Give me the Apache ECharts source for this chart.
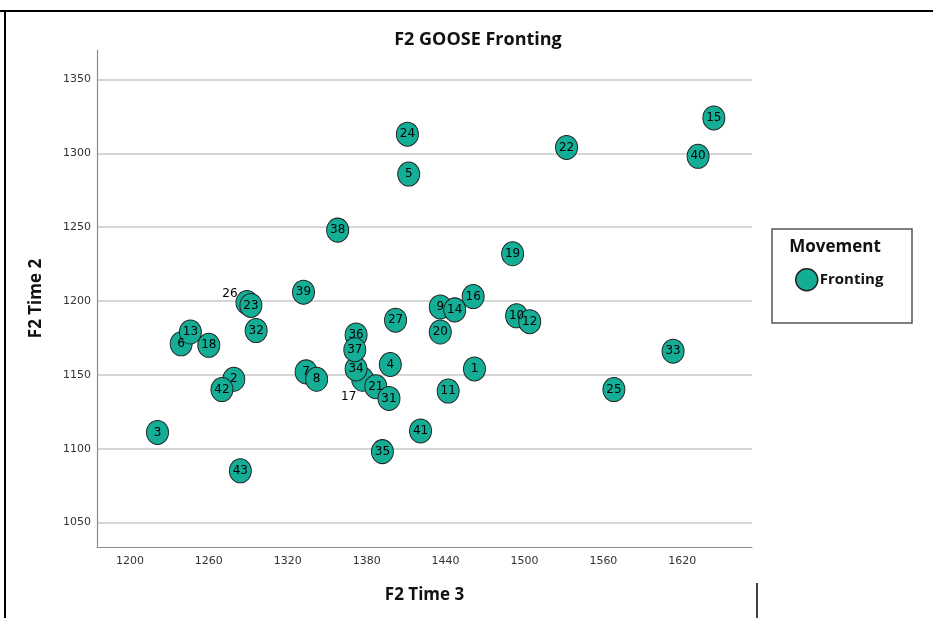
<!DOCTYPE html>
<html><head><meta charset="utf-8">
<script src="https://cdn.jsdelivr.net/npm/echarts@6/dist/echarts.min.js"></script>
<style>html,body{margin:0;padding:0;background:#fff}#c{width:933px;height:618px}</style>
</head><body><div id="c"></div>
<script>
// Case ids, in drawing order (26 is drawn beneath 23)
const ids     = [1, 2, 3, 4, 5, 6, 7, 8, 9, 10, 11, 12, 13, 14, 15, 16, 17, 18, 19, 20, 21, 22, 26, 23, 24, 25, 27, 31, 32, 33, 34, 35, 36, 37, 38, 39, 40, 41, 42, 43];
// F2 Time 3 (x)
const f2Time3 = [1462, 1279, 1221, 1398, 1412, 1239, 1334, 1342, 1436, 1494, 1442, 1504, 1246, 1447, 1644, 1461, 1377, 1260, 1491, 1436, 1387, 1532, 1289, 1292, 1411, 1568, 1402, 1397, 1296, 1613, 1372, 1392, 1372, 1371, 1358, 1332, 1632, 1421, 1270, 1284];
// F2 Time 2 (y)
const f2Time2 = [1154, 1147, 1111, 1157, 1286, 1171, 1152, 1147, 1196, 1190, 1139, 1186, 1179, 1194, 1324, 1203, 1147, 1170, 1232, 1179, 1142, 1304, 1199, 1197, 1313, 1140, 1187, 1134, 1180, 1166, 1154, 1098, 1177, 1167, 1248, 1206, 1298, 1112, 1140, 1085];
const xTicks = [1200, 1260, 1320, 1380, 1440, 1500, 1560, 1620];
const yTicks = [1050, 1100, 1150, 1200, 1250, 1300, 1350];
const seriesName = 'Fronting';
const legendTitle = 'Movement';

// labels that SPSS moved outside their marker
const movedLabel = { 17: [-14, 18], 26: [-17, -9] };

const data = ids.map((id, i) => {
  const item = { value: [f2Time3[i], f2Time2[i]], id: String(id) };
  if (movedLabel[id]) item.label = { offset: movedLabel[id] };
  return item;
});

const FONT = "'Open Sans', 'DejaVu Sans', sans-serif";
const chart = echarts.init(document.getElementById('c'), null, { renderer: 'canvas' });
chart.setOption({
  animation: false,
  backgroundColor: '#fff',
  title: {
    text: 'F2 GOOSE Fronting', left: 473, top: 26, textAlign: 'center',
    textStyle: { fontFamily: FONT, fontSize: 18, fontWeight: 'bold', color: '#111' }
  },
  grid: { left: 97, right: 181, top: 50, bottom: 71, containLabel: false },
  xAxis: {
    type: 'value', min: 1175, max: 1673,
    name: 'F2 Time 3', nameLocation: 'middle', nameGap: 40,
    nameTextStyle: { fontFamily: FONT, fontSize: 17, fontWeight: 'bold', color: '#111' },
    axisLine: { show: true, lineStyle: { color: '#8c8c8c', width: 1.2 } },
    axisTick: { show: false, customValues: xTicks },
    axisLabel: { customValues: xTicks, formatter: v => String(v), margin: 9, fontFamily: "'DejaVu Sans', sans-serif", fontSize: 11, color: '#333' },
    splitLine: { show: false }
  },
  yAxis: {
    type: 'value', min: 1033.4, max: 1370,
    name: 'F2 Time 2', nameLocation: 'middle', nameGap: 52, nameRotate: 90,
    nameTextStyle: { fontFamily: FONT, fontSize: 17, fontWeight: 'bold', color: '#111' },
    axisLine: { show: true, lineStyle: { color: '#8c8c8c', width: 1.2 } },
    axisTick: { show: false, customValues: yTicks },
    axisLabel: { customValues: yTicks, formatter: v => String(v), margin: 6, fontFamily: "'DejaVu Sans', sans-serif", fontSize: 11, color: '#333' },
    splitLine: { show: true, lineStyle: { color: '#c8c8c8', width: 1.5 } }
  },
  legend: {
    data: [seriesName], left: 795, top: 268, orient: 'vertical',
    itemWidth: 22, itemHeight: 24, itemGap: 5, icon: 'circle',
    itemStyle: { color: '#14ae97', borderColor: '#222', borderWidth: 1.5 },
    textStyle: { fontFamily: FONT, fontSize: 15, fontWeight: 'bold', color: '#111', padding: [0, 0, 0, -3] },
    padding: 0
  },
  graphic: [
    { type: 'rect', shape: { x: 772, y: 229, width: 140, height: 94 }, style: { fill: 'none', stroke: '#555', lineWidth: 1.5 } },
    { type: 'text', x: 835, y: 247, style: { text: legendTitle, fill: '#111', font: "bold 17px 'Open Sans', sans-serif", align: 'center', verticalAlign: 'middle' } },
    { type: 'line', shape: { x1: 0, y1: 11, x2: 933, y2: 11 }, style: { stroke: '#000', lineWidth: 2 } },
    { type: 'line', shape: { x1: 5, y1: 11, x2: 5, y2: 618 }, style: { stroke: '#000', lineWidth: 2 } },
    { type: 'line', shape: { x1: 757, y1: 583, x2: 757, y2: 618 }, style: { stroke: '#000', lineWidth: 1.5 } }
  ],
  series: [{
    name: seriesName, type: 'scatter', data: data,
    symbol: 'circle', symbolSize: [22, 24],
    itemStyle: { color: '#14ae97', borderColor: '#222', borderWidth: 1, opacity: 1 },
    label: {
      show: true, position: 'inside', formatter: p => p.data.id,
      fontFamily: "'DejaVu Sans', sans-serif", fontSize: 12, color: '#000'
    },
    emphasis: { disabled: true }
  }]
});
</script></body></html>
